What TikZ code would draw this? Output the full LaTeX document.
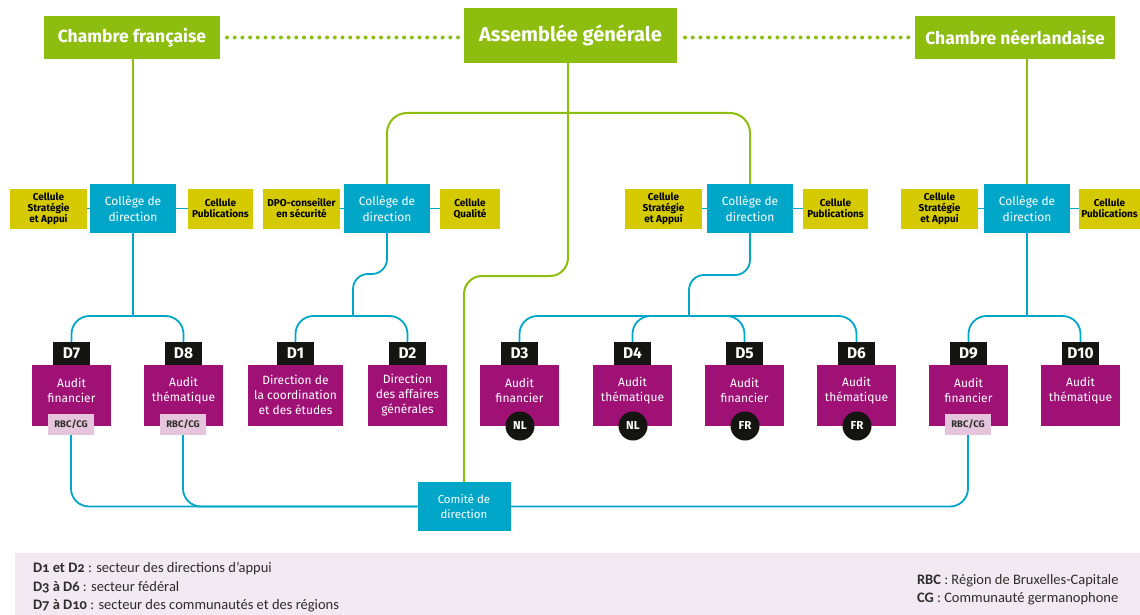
\documentclass[tikz,border=0pt]{standalone}
\usepackage{fontspec}
\setmainfont{Fira Sans}
\newfontfamily\legendfont{Carlito}[Numbers=OldStyle]
\usetikzlibrary{calc}
\definecolor{agreen}{RGB}{141,189,14}
\definecolor{ateal}{RGB}{0,166,200}
\definecolor{ayellow}{RGB}{213,201,0}
\definecolor{amag}{RGB}{160,17,118}
\definecolor{ablack}{RGB}{20,20,16}
\definecolor{atag}{RGB}{228,197,220}
\definecolor{alegend}{RGB}{243,233,242}
\definecolor{atext}{RGB}{45,45,45}
\begin{document}
\begin{tikzpicture}[x=1pt,y=-1pt,
 every node/.style={inner sep=0pt, outer sep=0pt, align=center},
 chamber/.style={fill=agreen, text=white, font=\bfseries\fontsize{17.5}{19}\selectfont, minimum height=43pt},
 college/.style={fill=ateal, text=white, font=\fontsize{12}{16}\selectfont, minimum width=86pt, minimum height=49pt},
 cellule/.style={fill=ayellow, text=black, font=\bfseries\fontsize{10}{11}\selectfont, minimum height=40pt},
 dlabel/.style={fill=ablack, text=white, font=\bfseries\fontsize{15.5}{16}\selectfont, minimum width=37pt, minimum height=23pt},
 dbox/.style={fill=amag, minimum width=79pt, minimum height=61pt},
 dtext/.style={text=white, font=\fontsize{12}{15}\selectfont},
 tagbox/.style={fill=atag, text=atext, font=\bfseries\fontsize{9.5}{10}\selectfont, minimum width=46pt, minimum height=21pt},
 lang/.style={circle, fill=ablack, text=white, font=\bfseries\fontsize{11.5}{12}\selectfont, minimum size=29pt},
 gline/.style={draw=agreen, line width=2pt},
 tline/.style={draw=ateal, line width=1.8pt},
 dotline/.style={draw=agreen, line width=4pt, line cap=round, dash pattern=on 0pt off 7.7pt},
 legtext/.style={anchor=west, text=atext, font=\legendfont\fontsize{14.5}{16}\selectfont},
]
\useasboundingbox (0,0) rectangle (1140,615);

% legend band
\node[fill=alegend, minimum width=1125pt, minimum height=62pt, anchor=north west] (leg) at (15,553) {};
\node[legtext] (lg1) at (33,569) {\textbf{D1 et D2}~: secteur des directions d’appui};
\node[legtext] (lg2) at (33,587.5) {\textbf{D3 à D6}~: secteur fédéral};
\node[legtext] (lg3) at (33,606) {\textbf{D7 à D10}~: secteur des communautés et des régions};
\node[legtext] (lg4) at (917,580.5) {\textbf{RBC}~: Région de Bruxelles-Capitale};
\node[legtext] (lg5) at (917,599) {\textbf{CG}~: Communauté germanophone};

% top level
\node[chamber, minimum width=176pt] (cf) at (132,37.5) {Chambre française};
\node[chamber, minimum width=213pt, minimum height=55pt, font=\bfseries\fontsize{20}{21}\selectfont] (ag) at (570.5,35.5) {Assemblée générale};
\node[chamber, minimum width=200pt] (cn) at (1015,37.5) {Chambre néerlandaise};
\draw[dotline] ($(cf.east)+(7,0)$) -- ($(ag.west|-cf.east)+(-5,0)$);
\draw[dotline] ($(ag.east|-cn.west)+(8,0)$) -- ($(cn.west)+(-6,0)$);

% colleges
\node[college] (c1) at (133,208.5) {Collège de\\direction};
\node[college] (c2) at (387,208.5) {Collège de\\direction};
\node[college] (c3) at (750,208.5) {Collège de\\direction};
\node[college] (c4) at (1027,208.5) {Collège de\\direction};

% cellules
\node[cellule, minimum width=77pt] (sa1) at (48.5,208.5) {Cellule\\Stratégie\\et Appui};
\node[cellule, minimum width=65pt] (pb1) at (220.5,208.5) {Cellule\\Publications};
\node[cellule, minimum width=77pt] (dpo) at (301.5,208.5) {DPO-conseiller\\en sécurité};
\node[cellule, minimum width=60pt] (ql) at (470,208.5) {Cellule\\Qualité};
\node[cellule, minimum width=77pt] (sa3) at (663.5,208.5) {Cellule\\Stratégie\\et Appui};
\node[cellule, minimum width=65pt] (pb3) at (835.5,208.5) {Cellule\\Publications};
\node[cellule, minimum width=77pt] (sa4) at (939.5,208.5) {Cellule\\Stratégie\\et Appui};
\node[cellule, minimum width=61pt] (pb4) at (1109.5,208.5) {Cellule\\Publications};

\draw[tline] (sa1) -- (c1); \draw[tline] (c1) -- (pb1);
\draw[tline] (dpo) -- (c2); \draw[tline] (c2) -- (ql);
\draw[tline] (sa3) -- (c3); \draw[tline] (c3) -- (pb3);
\draw[tline] (sa4) -- (c4); \draw[tline] (c4) -- (pb4);

% directions
\node[dbox] (b7) at (71.5,395.5) {};
\node[dbox] (b8) at (183.5,395.5) {};
\node[dbox, minimum width=95pt] (b1) at (295.5,395.5) {};
\node[dbox] (b2) at (407.5,395.5) {};
\node[dbox] (b3) at (519.5,395.5) {};
\node[dbox] (b4) at (632.5,395.5) {};
\node[dbox] (b5) at (744.5,395.5) {};
\node[dbox] (b6) at (856.5,395.5) {};
\node[dbox] (b9) at (968.5,395.5) {};
\node[dbox] (b10) at (1080.5,395.5) {};

\node[dlabel] (l7) at (71.5,353.5) {D7};
\node[dlabel] (l8) at (183.5,353.5) {D8};
\node[dlabel] (l1) at (295.5,353.5) {D1};
\node[dlabel] (l2) at (407.5,353.5) {D2};
\node[dlabel] (l3) at (519.5,353.5) {D3};
\node[dlabel] (l4) at (632.5,353.5) {D4};
\node[dlabel] (l5) at (744.5,353.5) {D5};
\node[dlabel] (l6) at (856.5,353.5) {D6};
\node[dlabel] (l9) at (968.5,353.5) {D9};
\node[dlabel] (l10) at (1080.5,353.5) {D10};

\node[dtext] (t7) at (71.5,390.5) {Audit\\financier};
\node[dtext] (t8) at (183.5,390.5) {Audit\\thématique};
\node[dtext] (t1) at (295.5,395) {Direction de\\la coordination\\et des études};
\node[dtext] (t2) at (407.5,395) {Direction\\des affaires\\générales};
\node[dtext] (t3) at (519.5,390.5) {Audit\\financier};
\node[dtext] (t4) at (632.5,390.5) {Audit\\thématique};
\node[dtext] (t5) at (744.5,390.5) {Audit\\financier};
\node[dtext] (t6) at (856.5,390.5) {Audit\\thématique};
\node[dtext] (t9) at (968.5,390.5) {Audit\\financier};
\node[dtext] (t10) at (1080.5,390.5) {Audit\\thématique};

\node[tagbox] (g7) at (71,424.5) {RBC/CG};
\node[tagbox] (g8) at (183,424.5) {RBC/CG};
\node[tagbox] (g9) at (968,424.5) {RBC/CG};

\node[lang] (n3) at (520,426) {NL};
\node[lang] (n4) at (633,426) {NL};
\node[lang] (n5) at (745,426) {FR};
\node[lang] (n6) at (857,426) {FR};

% comite
\node[college, minimum width=93pt, font=\fontsize{11.5}{15}\selectfont] (com) at (464,506.5) {Comité de\\direction};

% junctions
\coordinate (j1) at (133,316);
\coordinate (j2) at (353,316);
\coordinate (j3) at (689,316);
\coordinate (j4) at (1027,316);

\draw[tline] (c1.south) -- (j1);
\draw[tline, rounded corners=15pt] (c2.south) -- (387,274) -- (353,274) -- (j2);
\draw[tline, rounded corners=15pt] (c3.south) -- (750,275) -- (689,275) -- (j3);
\draw[tline] (c4.south) -- (j4);

\foreach \j/\d in {j1/l7, j1/l8, j2/l1, j2/l2, j3/l3, j3/l4, j3/l5, j3/l6, j4/l9, j4/l10}
  \draw[tline, rounded corners=18pt] (\j) -| (\d.north);

% comite links
\draw[tline, rounded corners=18pt] (g7.south) |- (com.west);
\draw[tline, rounded corners=18pt] (g8.south) |- (com.west);
\draw[tline, rounded corners=18pt] (g9.south) |- (com.east);

% green links
\draw[gline] (cf.south-|c1.north) -- (c1.north);
\draw[gline] (cn.south-|c4.north) -- (c4.north);
\draw[gline, rounded corners=20pt] (c2.north) -- (387,113) -- (750,113) -- (c3.north);
\draw[gline, rounded corners=18pt] (ag.south-|568,0) -- (568,276) -- (464,276) -- (com.north);
\end{tikzpicture}
\end{document}
